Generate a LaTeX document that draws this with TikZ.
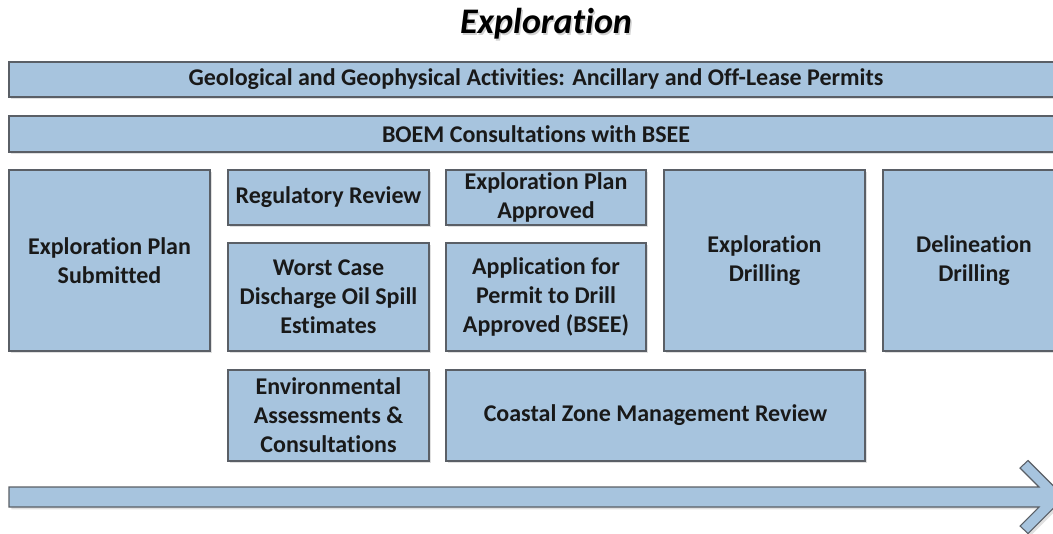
\documentclass[tikz,border=0pt]{standalone}
\usepackage{fontspec}
\setmainfont{Carlito}[Ligatures=CommonOff]
\usetikzlibrary{shadows}
\definecolor{boxfill}{HTML}{A7C4DE}
\definecolor{boxline}{HTML}{5A5F66}
\tikzset{
  box/.style={draw=boxline, line width=0.8pt, fill=boxfill, align=center,
    inner sep=0pt, font=\fontsize{18}{21.75}\selectfont\bfseries, text=black!90,
    drop shadow={shadow xshift=1.8pt, shadow yshift=-1.8pt, fill=black, opacity=0.12}},
  titlefont/.style={font=\fontsize{27}{32}\selectfont\bfseries\itshape}
}
\begin{document}
\begin{tikzpicture}[x=0.75pt, y=-0.75pt]
\useasboundingbox (0,0) rectangle (1053,533);
\clip (0,0) rectangle (1053,533);
% title
\node[titlefont, text=black!30, opacity=0.6] (titleshadow) at (547.5,25.5) {Exploration};
\node[titlefont] (title) at (546,24) {Exploration};
% bars
\node[box, minimum width=790.5pt, minimum height=26.25pt] (geo) at (536,79.5)
  {Geological and Geophysical Activities: Ancillary and Off-Lease Permits};
\node[box, minimum width=790.5pt, minimum height=27pt] (boem) at (536,134)
  {BOEM Consultations with BSEE};
% boxes
\node[box, minimum width=150.75pt, minimum height=135.75pt] (eps) at (109.5,260.5)
  {Exploration Plan\\Submitted};
\node[box, minimum width=150.75pt, minimum height=41.25pt] (rr) at (328.5,197.5)
  {Regulatory Review};
\node[box, minimum width=150.75pt, minimum height=81pt] (wc) at (328.5,297)
  {Worst Case\\Discharge Oil Spill\\Estimates};
\node[box, minimum width=150.75pt, minimum height=68.25pt] (env) at (328.5,415.5)
  {Environmental\\Assessments \&\\Consultations};
\node[box, minimum width=150pt, minimum height=41.25pt] (epa) at (546,197.5)
  {Exploration Plan\\Approved};
\node[box, minimum width=150pt, minimum height=81pt] (apd) at (546,297)
  {Application for\\Permit to Drill\\Approved (BSEE)};
\node[box, minimum width=314.25pt, minimum height=68.25pt] (czm) at (655.5,415.5)
  {Coastal Zone Management Review};
\node[box, minimum width=150.75pt, minimum height=135.75pt] (ed) at (764.5,260.5)
  {Exploration\\Drilling};
\node[box, minimum width=136.5pt, minimum height=135.75pt] (dd) at (974,260.5)
  {Delineation\\Drilling};
% timeline arrow
\path[fill=boxfill, draw=boxline, line width=0.8pt, line join=miter,
  drop shadow={shadow xshift=1.8pt, shadow yshift=-1.8pt, fill=black, opacity=0.12}]
  (9,487) -- (1039,487) -- (1020,468) -- (1028,460.5) -- (1064.5,497)
  -- (1028,533.5) -- (1020,526) -- (1039,507) -- (9,507) -- cycle;
\end{tikzpicture}
\end{document}
